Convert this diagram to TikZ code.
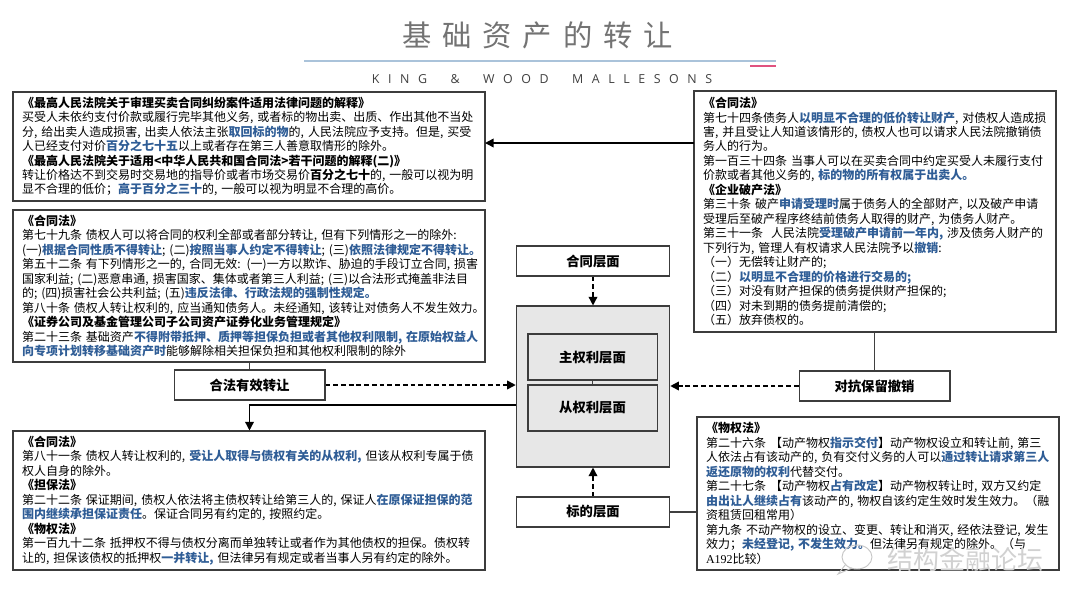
\documentclass[tikz,border=0pt]{standalone}
\usepackage{fontspec}
\usetikzlibrary{arrows.meta}
\setmainfont{Noto Sans CJK SC}
\newfontfamily\titlefont[LetterSpace=37]{Noto Sans CJK SC}
\newfontfamily\kwmfont[LetterSpace=69]{Open Sans}
\newfontfamily\latinf{Liberation Serif}
\definecolor{lawblue}{HTML}{2F5D96}
\definecolor{edgegray}{HTML}{3C3C3C}
\definecolor{layergray}{HTML}{E7E7E7}
\newcommand{\hl}[1]{\textcolor{lawblue}{\textbf{#1}}}
\newcommand{\Ln}[1]{\mbox{#1}\\}
\tikzset{
  lawbox/.style={draw=edgegray,line width=0.8pt,fill=white,inner xsep=6.75pt,inner ysep=0pt,align=left,
    font=\fontsize{9}{10.85}\selectfont},
  tagbox/.style={draw=edgegray,line width=0.8pt,fill=white,minimum width=113.2pt,minimum height=22.5pt,inner sep=0pt,
    font=\fontsize{10}{12}\selectfont\bfseries},
  layerbox/.style={draw=edgegray,line width=0.8pt,fill=layergray,minimum width=96.8pt,minimum height=34.5pt,inner sep=0pt,
    font=\fontsize{10}{12}\selectfont\bfseries},
  solidlink/.style={draw=black!75,line width=1pt},
  dashlink/.style={draw=black,line width=1.1pt,dash pattern=on 3.6pt off 2.2pt,-{Triangle[length=6.5pt,width=6.5pt]}},
  tiplink/.style={draw=black,line width=1.1pt,-{Triangle[length=6.5pt,width=6.5pt]}}
}
\begin{document}
\begin{tikzpicture}[x=0.75pt,y=-0.75pt]
\useasboundingbox (0,0) rectangle (1080,607);
\fill[white] (0,0) rectangle (1080,607);
% title
\node[text=black!55,font=\fontsize{22}{26}\selectfont\titlefont,inner sep=0pt] (title) at (537.5,35) {基础资产的转让};
\draw[draw={rgb,255:red,170;green,195;blue,218},line width=0.8pt] (304,61) -- (776,61);
\draw[draw={rgb,255:red,224;green,82;blue,127},line width=1pt] (750,66) -- (776,66);
\node[text=black!75,font=\fontsize{9.3}{11}\selectfont\kwmfont,inner sep=0pt] (kwm) at (542,79.5) {KING\ \ \&\ \ WOOD\ \ MALLESONS};
% law boxes
\node[lawbox,text width=340.5pt,minimum width=354pt,minimum height=81.75pt] (boxA) at (249,146.5) {%
\Ln{\textbf{《最高人民法院关于审理买卖合同纠纷案件适用法律问题的解释》}}
\Ln{买受人未依约支付价款或履行完毕其他义务, 或者标的物出卖、出质、作出其他不当处}
\Ln{分, 给出卖人造成损害, 出卖人依法主张\hl{取回标的物}的, 人民法院应予支持。但是, 买受}
\Ln{人已经支付对价\hl{百分之七十五}以上或者存在第三人善意取情形的除外。}
\Ln{\textbf{《最高人民法院关于适用<中华人民共和国合同法>若干问题的解释(二)》}}
\Ln{转让价格达不到交易时交易地的指导价或者市场交易价\textbf{百分之七十}的, 一般可以视为明}
\mbox{显不合理的低价；\hl{高于百分之三十}的, 一般可以视为明显不合理的高价。}};
\node[lawbox,text width=340.5pt,minimum width=354pt,minimum height=114pt] (boxB) at (249,286) {%
\Ln{\textbf{《合同法》}}
\Ln{第七十九条 债权人可以将合同的权利全部或者部分转让, 但有下列情形之一的除外:}
\Ln{(一)\hl{根据合同性质不得转让}; (二)\hl{按照当事人约定不得转让}; (三)\hl{依照法律规定不得转让。}}
\Ln{第五十二条 有下列情形之一的, 合同无效: (一)一方以欺诈、胁迫的手段订立合同, 损害}
\Ln{国家利益; (二)恶意串通, 损害国家、集体或者第三人利益; (三)以合法形式掩盖非法目}
\Ln{的; (四)损害社会公共利益; (五)\hl{违反法律、行政法规的强制性规定。}}
\Ln{第八十条 债权人转让权利的, 应当通知债务人。未经通知, 该转让对债务人不发生效力。}
\Ln{\textbf{《证券公司及基金管理公司子公司资产证券化业务管理规定》}}
\Ln{第二十三条 基础资产\hl{不得附带抵押、质押等担保负担或者其他权利限制, 在原始权益人}}
\mbox{\hl{向专项计划转移基础资产时}能够解除相关担保负担和其他权利限制的除外}};
\node[lawbox,text width=340.5pt,minimum width=354pt,minimum height=104.25pt] (boxC) at (249,500.5) {%
\Ln{\textbf{《合同法》}}
\Ln{第八十一条 债权人转让权利的, \hl{受让人取得与债权有关的从权利,} 但该从权利专属于债}
\Ln{权人自身的除外。}
\Ln{\textbf{《担保法》}}
\Ln{第二十二条 保证期间, 债权人依法将主债权转让给第三人的, 保证人\hl{在原保证担保的范}}
\Ln{\hl{围内继续承担保证责任}。保证合同另有约定的, 按照约定。}
\Ln{\textbf{《物权法》}}
\Ln{第一百九十二条 抵押权不得与债权分离而单独转让或者作为其他债权的担保。债权转}
\mbox{让的, 担保该债权的抵押权\hl{一并转让,} 但法律另有规定或者当事人另有约定的除外。}};
\node[lawbox,text width=258pt,minimum width=271.5pt,minimum height=180.75pt] (boxD) at (875,211.5) {%
\Ln{\textbf{《合同法》}}
\Ln{第七十四条债务人\hl{以明显不合理的低价转让财产}, 对债权人造成损}
\Ln{害, 并且受让人知道该情形的, 债权人也可以请求人民法院撤销债}
\Ln{务人的行为。}
\Ln{第一百三十四条 当事人可以在买卖合同中约定买受人未履行支付}
\Ln{价款或者其他义务的, \hl{标的物的所有权属于出卖人。}}
\Ln{\textbf{《企业破产法》}}
\Ln{第三十条 破产\hl{申请受理时}属于债务人的全部财产, 以及破产申请}
\Ln{受理后至破产程序终结前债务人取得的财产, 为债务人财产。}
\Ln{第三十一条\ \ 人民法院\hl{受理破产申请前一年内,} 涉及债务人财产的}
\Ln{下列行为, 管理人有权请求人民法院予以\hl{撤销}:}
\Ln{（一）无偿转让财产的;}
\Ln{（二）\hl{以明显不合理的价格进行交易的;}}
\Ln{（三）对没有财产担保的债务提供财产担保的;}
\Ln{（四）对未到期的债务提前清偿的;}
\mbox{（五）放弃债权的。}};
\node[lawbox,text width=258pt,minimum width=271.5pt,minimum height=114.75pt] (boxE) at (878,493.5) {%
\Ln{\textbf{《物权法》}}
\Ln{第二十六条 【动产物权\hl{指示交付}】动产物权设立和转让前, 第三}
\Ln{人依法占有该动产的, 负有交付义务的人可以\hl{通过转让请求第三人}}
\Ln{\hl{返还原物的权利}代替交付。}
\Ln{第二十七条 【动产物权\hl{占有改定}】动产物权转让时, 双方又约定}
\Ln{\hl{由出让人继续占有}该动产的, 物权自该约定生效时发生效力。（融}
\Ln{资租赁回租常用）}
\Ln{第九条 不动产物权的设立、变更、转让和消灭, 经依法登记, 发生}
\Ln{效力；\hl{未经登记, 不发生效力。}但法律另有规定的除外。（与}
\mbox{{\latinf A192}比较）}};
% watermark
\node[text=black!18,font=\fontsize{19.5}{22}\selectfont,inner sep=0pt] (mark) at (965,560) {结构金融论坛};
\draw[draw=black!22,line width=0.7pt] (857,557) ellipse [x radius=15,y radius=12];
\draw[draw=black!22,line width=0.7pt] (846,564) -- (838,574) -- (852,568);
% central column
\node[draw=edgegray,line width=0.8pt,fill=layergray,minimum width=115.1pt,minimum height=120.75pt,inner sep=0pt] (core) at (593,386.5) {};
\node[layerbox] (zhu) at (592.5,357) {主权利层面};
\node[layerbox] (cong) at (592.5,408) {从权利层面};
\node[tagbox,minimum width=115.1pt] (hetong) at (593,261) {合同层面};
\node[tagbox,minimum width=115.1pt] (biaode) at (593,512) {标的层面};
\node[tagbox] (hefa) at (249.5,385) {合法有效转让};
\node[tagbox] (duikang) at (874.5,386) {对抗保留撤销};
% connectors
\coordinate (dleft) at (694,143);
\coordinate (aright) at (485,143);
\coordinate (coreout) at (516,405);
\draw[tiplink] (dleft) -- (aright);
\draw[solidlink] (zhu) -- (cong);
\draw[solidlink] (boxB.south -| hefa) -- (hefa.north);
\draw[solidlink] (boxD.south -| duikang) -- (duikang.north);
\draw[solidlink] (biaode.east) -- (biaode -| boxE.west);
\draw[tiplink] (coreout) -| (boxC.north -| hefa);
\draw[dashlink] (hetong.south) -- (core.north);
\draw[dashlink] (biaode.north) -- (core.south);
\draw[dashlink] (hefa.east) -- (hefa -| core.west);
\draw[dashlink] (duikang.west) -- (duikang -| core.east);
\end{tikzpicture}
\end{document}
